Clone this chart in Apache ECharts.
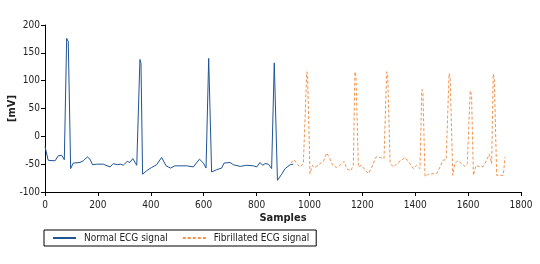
<!DOCTYPE html>
<html>
<head>
<meta charset="utf-8">
<script src="https://cdn.jsdelivr.net/npm/echarts@6/dist/echarts.min.js"></script>
<style>
html,body{margin:0;padding:0;background:#fff;}
#main{width:540px;height:264px;}
</style>
</head>
<body>
<div id="main"></div>
<script>
// 数据
var normalSamples = [0, 12, 38, 50, 63, 73, 82, 88, 97, 107, 114, 132, 145, 160, 170, 180, 195, 220, 246, 258, 273, 286, 296, 311, 321, 332, 347, 359, 363, 369, 384, 403, 422, 441, 458, 475, 491, 510, 536, 561, 584, 599, 609, 619, 630, 649, 668, 677, 700, 712, 738, 763, 788, 801, 813, 823, 832, 845, 857, 867, 879, 895, 908, 927, 939];
var normalValues  = [-18, -43, -44, -35, -34, -42, 176, 170, -58, -48, -47, -47, -44, -37, -41, -51, -50, -50, -55, -49, -51, -50, -52, -45, -47, -40, -52, 138, 131, -68, -62, -56, -51, -38, -53, -57, -53, -53, -53, -55, -41, -48, -57, 140, -64, -60, -57, -48, -47, -51, -54, -52, -53, -55, -47, -52, -49, -50, -58, 132, -79, -68, -58, -51, -50];

var fibSamples = [930, 942, 952, 964, 977, 990, 993, 1002, 1012, 1021, 1040, 1053, 1065, 1075, 1088, 1103, 1116, 1131, 1141, 1156, 1166, 1172, 1176, 1185, 1197, 1210, 1223, 1235, 1252, 1267, 1282, 1292, 1296, 1305, 1317, 1336, 1362, 1374, 1393, 1405, 1418, 1425, 1429, 1437, 1450, 1469, 1481, 1494, 1504, 1517, 1528, 1532, 1542, 1550, 1563, 1575, 1588, 1597, 1608, 1613, 1620, 1630, 1645, 1658, 1670, 1680, 1689, 1695, 1699, 1708, 1733, 1740];
var fibValues  = [-48, -42, -49, -55, -49, 116, 110, -67, -52, -56, -49, -45, -30, -38, -52, -56, -52, -45, -58, -62, -52, 116, 108, -55, -52, -60, -67, -56, -37, -38, -40, 116, 110, -48, -55, -47, -38, -45, -58, -52, -58, 84, 80, -72, -68, -67, -67, -55, -43, -42, 113, 107, -70, -48, -44, -49, -54, -49, 82, 74, -70, -52, -55, -54, -43, -32, -49, 112, 104, -70, -70, -37];

var xTicks = {min: 0, max: 1800, interval: 200};
var yTicks = {min: -100, max: 200, interval: 50};

function pairs(xs, ys) {
    var out = [];
    for (var i = 0; i < xs.length; i++) {
        out.push([xs[i], ys[i]]);
    }
    return out;
}

var FONT = "'DejaVu Sans Condensed', 'Open Sans', sans-serif";

var myChart = echarts.init(document.getElementById('main'), null, {renderer: 'canvas'});
var option = {
    animation: false,
    backgroundColor: '#fff',
    textStyle: {fontFamily: FONT},
    grid: {left: 45, right: 19, top: 25, bottom: 72, containLabel: false, outerBoundsMode: 'none'},
    legend: {
        left: 44,
        top: 230,
        padding: [3, 7, 3, 8],
        borderColor: '#000',
        borderWidth: 1,
        itemWidth: 23,
        itemHeight: 10,
        itemGap: 14,
        itemStyle: {opacity: 0},
        textStyle: {fontFamily: FONT, fontSize: 10, color: '#222', padding: [0, 0, 0, 3]},
        data: ['Normal ECG signal', 'Fibrillated ECG signal']
    },
    xAxis: {
        type: 'value',
        min: xTicks.min,
        max: xTicks.max,
        interval: xTicks.interval,
        name: 'Samples',
        nameLocation: 'middle',
        nameGap: 21,
        nameMoveOverlap: false,
        nameTextStyle: {fontFamily: FONT, fontSize: 11, fontWeight: 'bold', color: '#222'},
        axisLine: {onZero: false, lineStyle: {color: '#000', width: 1}},
        axisTick: {show: true, length: 4, lineStyle: {color: '#000'}},
        axisLabel: {fontFamily: FONT, fontSize: 10, color: '#222', margin: 8, formatter: function (v) { return String(v); }},
        splitLine: {show: false}
    },
    yAxis: {
        type: 'value',
        min: yTicks.min,
        max: yTicks.max,
        interval: yTicks.interval,
        name: '[mV]',
        nameLocation: 'middle',
        nameGap: 27,
        nameMoveOverlap: false,
        nameTextStyle: {fontFamily: FONT, fontSize: 11, fontWeight: 'bold', color: '#222'},
        axisLine: {show: true, onZero: false, lineStyle: {color: '#000', width: 1}},
        axisTick: {show: true, length: 4, lineStyle: {color: '#000'}},
        axisLabel: {fontFamily: FONT, fontSize: 10, color: '#222', margin: 5, formatter: function (v) { return String(v); }},
        splitLine: {show: false}
    },
    series: [
        {
            name: 'Normal ECG signal',
            type: 'line',
            showSymbol: false,
            symbol: 'none',
            data: pairs(normalSamples, normalValues),
            lineStyle: {color: '#1f5596', width: 1},
            itemStyle: {color: '#1f5596'}
        },
        {
            name: 'Fibrillated ECG signal',
            type: 'line',
            showSymbol: false,
            symbol: 'none',
            data: pairs(fibSamples, fibValues),
            lineStyle: {color: '#f09550', width: 1, type: [3, 2]},
            itemStyle: {color: '#f09550'}
        }
    ]
};
myChart.setOption(option);
</script>
</body>
</html>
